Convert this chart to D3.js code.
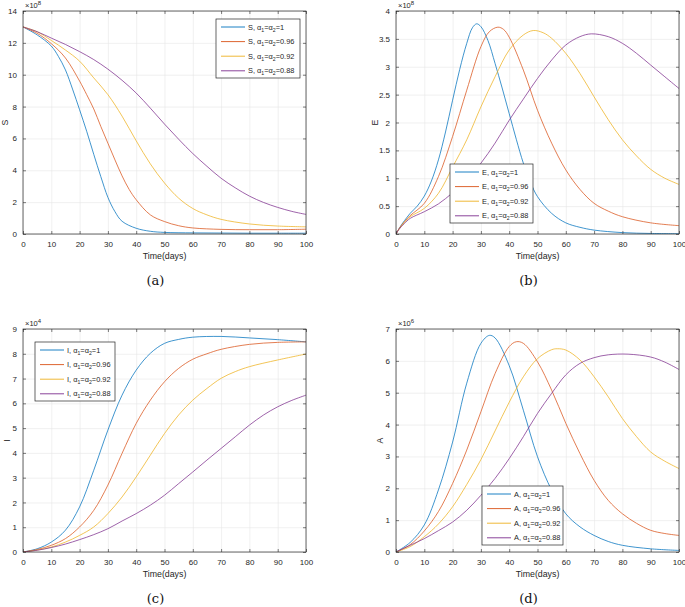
<!DOCTYPE html>
<html>
<head>
<meta charset="utf-8">
<script src="https://cdn.jsdelivr.net/npm/d3@7"></script>
<style>
  body { margin: 0; background: #fff; }
  svg { display: block; font-family: Arial, "Liberation Sans", Helvetica, sans-serif; }
  .grid line { stroke: #e6e6e6; stroke-width: 0.6; }
  .grid path { display: none; }
  .ax path { display: none; }
  .ax line { stroke: #262626; stroke-width: 0.6; }
  .ax text { fill: #262626; font-size: 8px; }
</style>
</head>
<body>
<svg id="chart" width="685" height="607"></svg>
<script>
// alpha1 = alpha2 values of the four runs
var orders = ["1", "0.96", "0.92", "0.88"];
var colors = ["#0072BD", "#D95319", "#EDB120", "#7E2F8E"];

// S (x 10^8), pairs [day, value]
var S_1 = [[0,13],[5,12.5],[10,11.8],[12.5,11.15],[15,10.3],[17.5,9.1],[20,7.8],[22.5,6.45],[25,5.0],[27.5,3.6],[30,2.3],[32.5,1.4],[35,0.8],[40,0.36],[45,0.17],[50,0.1],[60,0.07],[70,0.06],[80,0.05],[90,0.05],[100,0.05]];
var S_096 = [[0,13],[5,12.6],[10,11.95],[15,11.05],[20,9.6],[22.5,8.75],[25,7.85],[27.5,6.75],[30,5.7],[32.5,4.65],[35,3.65],[37.5,2.8],[40,2.15],[45,1.2],[50,0.78],[55,0.52],[60,0.38],[70,0.29],[80,0.27],[90,0.27],[100,0.3]];
var S_092 = [[0,13],[5,12.7],[10,12.15],[15,11.55],[20,10.85],[25,9.8],[30,8.75],[35,7.4],[40,5.85],[45,4.4],[50,3.2],[55,2.25],[60,1.6],[65,1.2],[70,0.92],[80,0.63],[90,0.5],[100,0.45]];
var S_088 = [[0,13],[5,12.7],[10,12.3],[15,11.9],[20,11.45],[25,10.95],[30,10.35],[35,9.65],[40,8.85],[45,7.9],[50,6.9],[55,5.95],[60,5.05],[65,4.25],[70,3.5],[75,2.9],[80,2.38],[85,1.98],[90,1.67],[95,1.42],[100,1.23]];

// E (x 10^8)
var E_1 = [[0,0],[1,0.09],[2,0.17],[3,0.24],[5,0.37],[7.5,0.5],[10,0.68],[12.5,0.95],[15,1.33],[17.5,1.83],[20,2.4],[22.5,2.95],[25,3.42],[27,3.7],[28.5,3.77],[30,3.72],[32.5,3.47],[35,3.06],[37.5,2.62],[40,2.16],[42.5,1.7],[45,1.27],[47.5,0.93],[50,0.67],[55,0.37],[60,0.2],[65,0.12],[70,0.07],[80,0.025],[90,0.01],[100,0.005]];
var E_096 = [[0,0],[1,0.09],[2,0.16],[3,0.22],[5,0.33],[10,0.55],[15,1.03],[20,1.75],[25,2.58],[30,3.36],[33,3.63],[36,3.71],[38,3.67],[40,3.53],[45,2.94],[50,2.22],[55,1.63],[60,1.15],[65,0.8],[70,0.55],[75,0.41],[80,0.31],[90,0.2],[100,0.15]];
var E_092 = [[0,0],[1,0.08],[2,0.15],[3,0.21],[5,0.31],[10,0.46],[15,0.73],[20,1.2],[25,1.69],[30,2.28],[35,2.82],[40,3.3],[45,3.57],[48.5,3.65],[52,3.61],[55,3.51],[60,3.24],[65,2.88],[70,2.46],[75,2.05],[80,1.69],[85,1.4],[90,1.16],[95,1.0],[100,0.89]];
var E_088 = [[0,0],[1,0.08],[2,0.14],[3,0.19],[5,0.28],[10,0.4],[15,0.54],[20,0.74],[25,0.97],[30,1.27],[35,1.63],[40,2.04],[45,2.42],[50,2.79],[55,3.12],[60,3.39],[65,3.54],[69,3.59],[75,3.54],[80,3.42],[85,3.24],[90,3.03],[95,2.82],[100,2.61]];

// I (x 10^4)
var I_1 = [[0,0],[5,0.13],[10,0.4],[15,0.88],[20,1.82],[25,3.3],[30,4.92],[35,6.33],[40,7.34],[45,8.02],[50,8.42],[55,8.58],[60,8.67],[70,8.7],[80,8.64],[90,8.57],[100,8.48]];
var I_096 = [[0,0],[5,0.1],[10,0.27],[15,0.54],[20,1.01],[25,1.68],[30,2.7],[35,3.98],[40,5.19],[45,6.13],[50,6.87],[55,7.41],[60,7.78],[65,8.0],[70,8.18],[80,8.38],[90,8.46],[100,8.48]];
var I_092 = [[0,0],[5,0.08],[10,0.2],[15,0.4],[20,0.67],[25,1.01],[30,1.55],[35,2.22],[40,3.03],[45,3.91],[50,4.78],[55,5.53],[60,6.13],[65,6.6],[70,7.01],[75,7.28],[80,7.48],[90,7.75],[100,7.99]];
var I_088 = [[0,0],[5,0.07],[10,0.18],[15,0.32],[20,0.5],[25,0.7],[30,0.94],[35,1.25],[40,1.55],[45,1.89],[50,2.29],[55,2.76],[60,3.23],[65,3.71],[70,4.18],[75,4.65],[80,5.12],[85,5.53],[90,5.86],[95,6.12],[100,6.33]];

// A (x 10^6)
var A_1 = [[0,0],[5,0.3],[10,0.85],[15,1.95],[20,3.45],[25,5.3],[30,6.55],[33,6.8],[35,6.72],[40,5.85],[45,4.45],[50,2.99],[55,1.94],[60,1.2],[65,0.79],[70,0.52],[75,0.33],[80,0.21],[90,0.1],[100,0.05]];
var A_096 = [[0,0],[5,0.23],[10,0.66],[15,1.27],[20,2.15],[25,3.2],[30,4.4],[35,5.6],[40,6.45],[42.5,6.6],[45,6.55],[50,5.97],[55,5.08],[60,4.04],[65,3.09],[70,2.25],[75,1.62],[80,1.2],[85,0.9],[90,0.68],[95,0.58],[100,0.52]];
var A_092 = [[0,0],[5,0.17],[10,0.48],[15,0.88],[20,1.42],[25,2.12],[30,2.9],[35,3.8],[40,4.7],[45,5.5],[50,6.07],[55,6.35],[57,6.38],[60,6.34],[65,6.03],[70,5.5],[75,4.87],[80,4.19],[85,3.62],[90,3.14],[95,2.85],[100,2.62]];
var A_088 = [[0,0],[5,0.21],[10,0.42],[15,0.67],[20,0.94],[25,1.31],[30,1.78],[35,2.31],[40,2.93],[45,3.62],[50,4.35],[55,4.98],[60,5.56],[65,5.92],[70,6.1],[75,6.19],[82,6.21],[90,6.12],[95,5.96],[100,5.73]];

var xTicks = [0, 10, 20, 30, 40, 50, 60, 70, 80, 90, 100];

var panels = [
  { name: "S", exp: "8", ymax: 14, ystep: 2, series: [S_1, S_096, S_092, S_088],
    box: [23, 11, 306, 234], leg: [216, 19], legW: 84, ylab: 18, cap: "(a)" },
  { name: "E", exp: "8", ymax: 4, ystep: 0.5, series: [E_1, E_096, E_092, E_088],
    box: [396, 11, 679, 234], leg: [450, 164], legW: 83, ylab: 21, cap: "(b)" },
  { name: "I", exp: "4", ymax: 9, ystep: 1, series: [I_1, I_096, I_092, I_088],
    box: [23, 329, 306, 552], leg: [35, 342], legW: 80, ylab: 16, cap: "(c)" },
  { name: "A", exp: "6", ymax: 7, ystep: 1, series: [A_1, A_096, A_092, A_088],
    box: [396, 329, 679, 552], leg: [482, 486], legW: 81, ylab: 16, cap: "(d)" }
];

var svg = d3.select("#chart");

panels.forEach(function(p, pi) {
  var x0 = p.box[0], y0 = p.box[1], x1 = p.box[2], y1 = p.box[3];
  var w = x1 - x0, h = y1 - y0;
  var x = d3.scaleLinear().domain([0, 100]).range([0, w]);
  var y = d3.scaleLinear().domain([0, p.ymax]).range([h, 0]);
  var yTicks = d3.range(0, p.ymax + p.ystep / 2, p.ystep);
  var fmt = d3.format("~g");

  var g = svg.append("g").attr("transform", "translate(" + x0 + "," + y0 + ")");

  g.append("g").attr("class", "grid")
    .attr("transform", "translate(0," + h + ")")
    .call(d3.axisBottom(x).tickValues(xTicks).tickSize(-h).tickFormat(""));
  g.append("g").attr("class", "grid")
    .call(d3.axisLeft(y).tickValues(yTicks).tickSize(-w).tickFormat(""));

  g.append("clipPath").attr("id", "clip" + pi)
    .append("rect").attr("width", w).attr("height", h);

  var line = d3.line()
    .x(function(d) { return x(d[0]); })
    .y(function(d) { return y(d[1]); })
    .curve(d3.curveCatmullRom.alpha(0.5));

  g.append("g").attr("clip-path", "url(#clip" + pi + ")")
    .selectAll("path")
    .data(p.series)
    .enter().append("path")
    .attr("d", line)
    .attr("fill", "none")
    .attr("stroke", function(d, i) { return colors[i]; })
    .attr("stroke-width", 0.75);

  g.append("g").attr("class", "ax")
    .attr("transform", "translate(0," + h + ")")
    .call(d3.axisBottom(x).tickValues(xTicks).tickSize(-3).tickPadding(7).tickFormat(fmt));
  g.append("g").attr("class", "ax")
    .call(d3.axisTop(x).tickValues(xTicks).tickSize(-3).tickFormat(""));
  g.append("g").attr("class", "ax")
    .call(d3.axisLeft(y).tickValues(yTicks).tickSize(-3).tickPadding(6).tickFormat(fmt));
  g.append("g").attr("class", "ax")
    .attr("transform", "translate(" + w + ",0)")
    .call(d3.axisRight(y).tickValues(yTicks).tickSize(-3).tickFormat(""));

  g.append("rect")
    .attr("width", w).attr("height", h)
    .attr("fill", "none").attr("stroke", "#262626").attr("stroke-width", 0.7);

  // exponent
  var ex = g.append("text").attr("x", 2).attr("y", -3)
    .attr("font-size", 7.5).attr("fill", "#262626").text("\u00d710");
  ex.append("tspan").attr("dy", -3).attr("font-size", 6).text(p.exp);

  // axis labels
  g.append("text").attr("x", w / 2).attr("y", h + 25)
    .attr("text-anchor", "middle").attr("font-size", 8.8).attr("fill", "#262626")
    .text("Time(days)");
  g.append("text")
    .attr("transform", "translate(" + (-p.ylab) + "," + (h / 2) + ") rotate(-90)")
    .attr("text-anchor", "middle").attr("font-size", 8.8).attr("fill", "#262626")
    .attr("dy", "0.35em")
    .text(p.name);

  // caption
  g.append("text").attr("x", w / 2 - 9).attr("y", h + 51)
    .attr("text-anchor", "middle")
    .attr("font-family", "'DejaVu Serif', 'Liberation Serif', serif")
    .attr("font-size", 13).attr("fill", "#111")
    .text(p.cap);

  // legend
  var lg = svg.append("g").attr("transform", "translate(" + p.leg[0] + "," + p.leg[1] + ")");
  lg.append("rect").attr("width", p.legW).attr("height", 59)
    .attr("fill", "#fff").attr("stroke", "#262626").attr("stroke-width", 0.7);
  orders.forEach(function(o, i) {
    var ry = 8 + i * 14.6;
    lg.append("line").attr("x1", 5).attr("x2", 29).attr("y1", ry).attr("y2", ry)
      .attr("stroke", colors[i]).attr("stroke-width", 0.9);
    var t = lg.append("text").attr("x", 32).attr("y", ry + 2.5)
      .attr("font-size", 7.4).attr("fill", "#262626");
    t.append("tspan").text(p.name + ", \u03b1");
    t.append("tspan").attr("dy", 2).attr("font-size", 5.2).text("1");
    t.append("tspan").attr("dy", -2).text("=\u03b1");
    t.append("tspan").attr("dy", 2).attr("font-size", 5.2).text("2");
    t.append("tspan").attr("dy", -2).text("=" + o);
  });
});
</script>
</body>
</html>
